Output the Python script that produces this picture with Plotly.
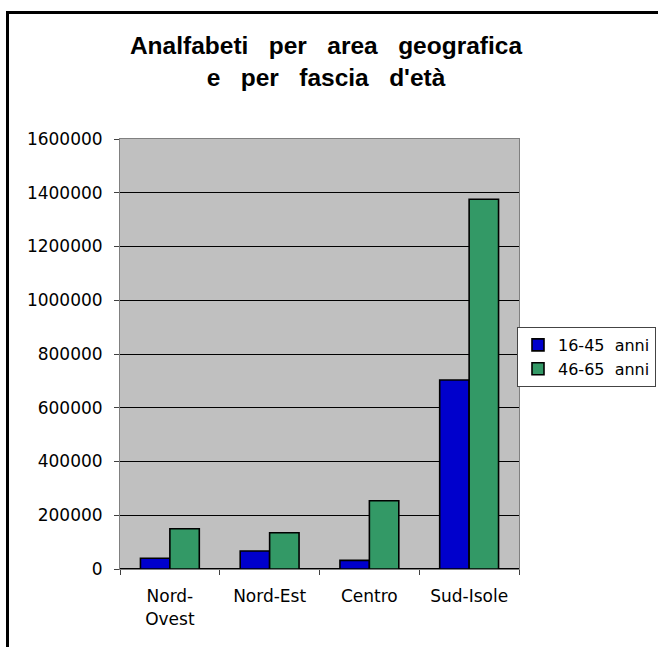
import plotly.graph_objects as go

categories = ["Nord-Ovest", "Nord-Est", "Centro", "Sud-Isole"]
category_labels = ["Nord-<br>Ovest", "Nord-Est", "Centro", "Sud-Isole"]
values_16_45 = [40000, 67000, 32000, 703000]
values_46_65 = [150000, 135000, 254000, 1376000]
series_names = ["16-45\u00a0\u00a0anni", "46-65\u00a0\u00a0anni"]
y_ticks = [0, 200000, 400000, 600000, 800000, 1000000, 1200000, 1400000, 1600000]

W, H = 658, 647
L, R, T, B = 120, 139, 139, 78
pw, ph = W - L - R, H - T - B

def px_x(p):
    return (p - L) / pw

def px_y(p):
    return (H - B - p) / ph

fig = go.Figure()
fig.add_trace(go.Bar(x=categories, y=values_16_45, name=series_names[0],
                     marker=dict(color="#0000CC", line=dict(color="#000000", width=1.6))))
fig.add_trace(go.Bar(x=categories, y=values_46_65, name=series_names[1],
                     marker=dict(color="#339966", line=dict(color="#000000", width=1.6))))

sp = "\u00a0\u00a0\u00a0"
title_text = f"Analfabeti{sp}per{sp}area{sp}geografica<br>e{sp}per{sp}fascia{sp}d'età"

fig.update_layout(
    width=W, height=H,
    margin=dict(l=L, r=R, t=T, b=B, autoexpand=False),
    paper_bgcolor="white",
    plot_bgcolor="#C0C0C0",
    barmode="group",
    bargap=0.41,
    bargroupgap=0,
    font=dict(family="DejaVu Sans", size=17, color="#000000"),
    title=dict(text=title_text, x=px_x(326), xanchor="center", xref="paper",
               y=1 - 54 / H, yanchor="top", yref="container",
               font=dict(family="Liberation Sans", size=24.5, color="#000000", weight="bold")),
    legend=dict(x=px_x(656), xanchor="right", y=px_y(327), yanchor="top",
                bgcolor="white", bordercolor="#444444", borderwidth=1,
                font=dict(family="DejaVu Sans", size=16, color="#000000"),
                tracegroupgap=0, itemwidth=30),
    showlegend=True,
    xaxis=dict(tickmode="array", tickvals=categories, ticktext=category_labels,
               tickson="boundaries", ticks="outside", ticklen=5, tickcolor="#404040",
               showline=True, linecolor="#808080", linewidth=1, mirror=True,
               showgrid=False, tickfont=dict(size=17), ticklabelstandoff=12),
    yaxis=dict(range=[0, 1600000], tickmode="array", tickvals=y_ticks,
               ticktext=[str(v) for v in y_ticks],
               ticks="outside", ticklen=5, tickcolor="#404040",
               showline=True, linecolor="#808080", linewidth=1, mirror=True,
               showgrid=True, gridcolor="#000000", gridwidth=1,
               zeroline=True, zerolinecolor="#000000", zerolinewidth=1.5,
               ticklabelstandoff=8, tickfont=dict(size=17)),
    shapes=[
        dict(type="line", xref="paper", yref="paper",
             x0=px_x(7.5), x1=px_x(W + 5), y0=px_y(12.5), y1=px_y(12.5),
             line=dict(color="#000000", width=3)),
        dict(type="line", xref="paper", yref="paper",
             x0=px_x(7.5), x1=px_x(7.5), y0=px_y(11), y1=px_y(H + 5),
             line=dict(color="#000000", width=3)),
    ],
)

fig.write_html("out.html")
